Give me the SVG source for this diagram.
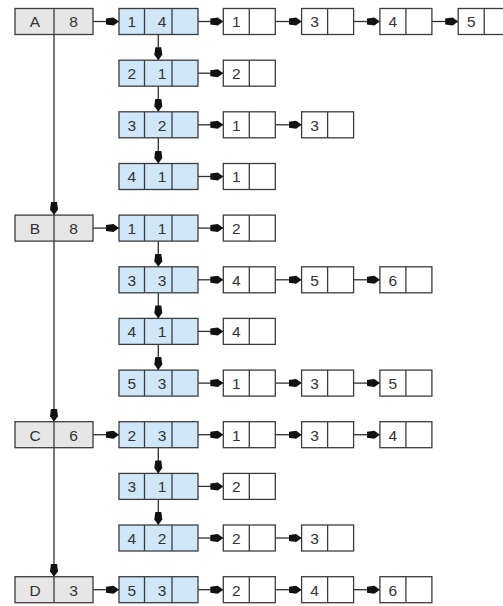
<svg xmlns="http://www.w3.org/2000/svg" width="503" height="606" viewBox="0 0 503 606">
  <defs>
    <style>
      .g, .b, .w { stroke: #3c3c3c; stroke-width: 1.3; }
      .g { fill: #e6e6e6; }
      .b { fill: #cfe7f8; }
      .w { fill: #ffffff; }
      .d { stroke: #3c3c3c; stroke-width: 1.3; }
      text { font-family: "Liberation Sans", Arial, sans-serif; font-size: 15.5px; fill: #333333; text-anchor: middle; }
      .c line { stroke: #303030; stroke-width: 1.3; marker-end: url(#ah); }
    </style>
    <marker id="ah" markerUnits="userSpaceOnUse" markerWidth="14" markerHeight="10" viewBox="0 -5 14 10" refX="13" refY="0" orient="auto">
      <path d="M0,-3 L7.5,-4 L13,0 L7.5,4 L0,3 Z" fill="#111111"/>
    </marker>
  </defs>
  <rect x="0" y="0" width="503" height="606" fill="#ffffff"/>

  <!-- connectors -->
  <g class="c" id="connectors">
    <!-- head column -->
    <line x1="54" y1="34.5" x2="54" y2="215.1"/>
    <line x1="54" y1="241.1" x2="54" y2="421.7"/>
    <line x1="54" y1="447.7" x2="54" y2="576.7"/>
    <!-- head to first entry -->
    <line x1="93" y1="21.5" x2="119" y2="21.5"/>
    <line x1="93" y1="228.1" x2="119" y2="228.1"/>
    <line x1="93" y1="434.7" x2="119" y2="434.7"/>
    <line x1="93" y1="589.7" x2="119" y2="589.7"/>
    <!-- entry chains -->
    <line x1="158.3" y1="34.5" x2="158.3" y2="60.2"/>
    <line x1="158.3" y1="86.2" x2="158.3" y2="111.8"/>
    <line x1="158.3" y1="137.8" x2="158.3" y2="163.5"/>
    <line x1="158.3" y1="241.1" x2="158.3" y2="266.8"/>
    <line x1="158.3" y1="292.8" x2="158.3" y2="318.4"/>
    <line x1="158.3" y1="344.4" x2="158.3" y2="370.1"/>
    <line x1="158.3" y1="447.7" x2="158.3" y2="473.4"/>
    <line x1="158.3" y1="499.4" x2="158.3" y2="525"/>
    <!-- row 0 -->
    <line x1="198" y1="21.5" x2="223.3" y2="21.5"/>
    <line x1="275.3" y1="21.5" x2="301.6" y2="21.5"/>
    <line x1="353.6" y1="21.5" x2="379.9" y2="21.5"/>
    <line x1="431.9" y1="21.5" x2="458.2" y2="21.5"/>
    <!-- row 1 -->
    <line x1="198" y1="73.2" x2="223.3" y2="73.2"/>
    <!-- row 2 -->
    <line x1="198" y1="124.8" x2="223.3" y2="124.8"/>
    <line x1="275.3" y1="124.8" x2="301.6" y2="124.8"/>
    <!-- row 3 -->
    <line x1="198" y1="176.5" x2="223.3" y2="176.5"/>
    <!-- row 4 -->
    <line x1="198" y1="228.1" x2="223.3" y2="228.1"/>
    <!-- row 5 -->
    <line x1="198" y1="279.8" x2="223.3" y2="279.8"/>
    <line x1="275.3" y1="279.8" x2="301.6" y2="279.8"/>
    <line x1="353.6" y1="279.8" x2="379.9" y2="279.8"/>
    <!-- row 6 -->
    <line x1="198" y1="331.4" x2="223.3" y2="331.4"/>
    <!-- row 7 -->
    <line x1="198" y1="383.1" x2="223.3" y2="383.1"/>
    <line x1="275.3" y1="383.1" x2="301.6" y2="383.1"/>
    <line x1="353.6" y1="383.1" x2="379.9" y2="383.1"/>
    <!-- row 8 -->
    <line x1="198" y1="434.7" x2="223.3" y2="434.7"/>
    <line x1="275.3" y1="434.7" x2="301.6" y2="434.7"/>
    <line x1="353.6" y1="434.7" x2="379.9" y2="434.7"/>
    <!-- row 9 -->
    <line x1="198" y1="486.4" x2="223.3" y2="486.4"/>
    <!-- row 10 -->
    <line x1="198" y1="538" x2="223.3" y2="538"/>
    <line x1="275.3" y1="538" x2="301.6" y2="538"/>
    <!-- row 11 -->
    <line x1="198" y1="589.7" x2="223.3" y2="589.7"/>
    <line x1="275.3" y1="589.7" x2="301.6" y2="589.7"/>
    <line x1="353.6" y1="589.7" x2="379.9" y2="589.7"/>
  </g>

  <!-- head nodes -->
  <g id="head-A"><rect class="g" x="15" y="8.5" width="78" height="26"/><line class="d" x1="54" y1="8.5" x2="54" y2="34.5"/><text x="35" y="27.3">A</text><text x="73.5" y="27.3">8</text></g>
  <g id="head-B"><rect class="g" x="15" y="215.1" width="78" height="26"/><line class="d" x1="54" y1="215.1" x2="54" y2="241.1"/><text x="35" y="233.9">B</text><text x="73.5" y="233.9">8</text></g>
  <g id="head-C"><rect class="g" x="15" y="421.7" width="78" height="26"/><line class="d" x1="54" y1="421.7" x2="54" y2="447.7"/><text x="35" y="440.5">C</text><text x="73.5" y="440.5">6</text></g>
  <g id="head-D"><rect class="g" x="15" y="576.7" width="78" height="26"/><line class="d" x1="54" y1="576.7" x2="54" y2="602.7"/><text x="35" y="595.5">D</text><text x="73.5" y="595.5">3</text></g>

  <!-- entry nodes -->
  <g id="e0"><rect class="b" x="119" y="8.5" width="79" height="26"/><line class="d" x1="144.5" y1="8.5" x2="144.5" y2="34.5"/><line class="d" x1="172" y1="8.5" x2="172" y2="34.5"/><text x="131.7" y="27.3">1</text><text x="162" y="27.3">4</text></g>
  <g id="e1"><rect class="b" x="119" y="60.2" width="79" height="26"/><line class="d" x1="144.5" y1="60.2" x2="144.5" y2="86.2"/><line class="d" x1="172" y1="60.2" x2="172" y2="86.2"/><text x="131.7" y="79">2</text><text x="162" y="79">1</text></g>
  <g id="e2"><rect class="b" x="119" y="111.8" width="79" height="26"/><line class="d" x1="144.5" y1="111.8" x2="144.5" y2="137.8"/><line class="d" x1="172" y1="111.8" x2="172" y2="137.8"/><text x="131.7" y="130.6">3</text><text x="162" y="130.6">2</text></g>
  <g id="e3"><rect class="b" x="119" y="163.5" width="79" height="26"/><line class="d" x1="144.5" y1="163.5" x2="144.5" y2="189.5"/><line class="d" x1="172" y1="163.5" x2="172" y2="189.5"/><text x="131.7" y="182.3">4</text><text x="162" y="182.3">1</text></g>
  <g id="e4"><rect class="b" x="119" y="215.1" width="79" height="26"/><line class="d" x1="144.5" y1="215.1" x2="144.5" y2="241.1"/><line class="d" x1="172" y1="215.1" x2="172" y2="241.1"/><text x="131.7" y="233.9">1</text><text x="162" y="233.9">1</text></g>
  <g id="e5"><rect class="b" x="119" y="266.8" width="79" height="26"/><line class="d" x1="144.5" y1="266.8" x2="144.5" y2="292.8"/><line class="d" x1="172" y1="266.8" x2="172" y2="292.8"/><text x="131.7" y="285.6">3</text><text x="162" y="285.6">3</text></g>
  <g id="e6"><rect class="b" x="119" y="318.4" width="79" height="26"/><line class="d" x1="144.5" y1="318.4" x2="144.5" y2="344.4"/><line class="d" x1="172" y1="318.4" x2="172" y2="344.4"/><text x="131.7" y="337.2">4</text><text x="162" y="337.2">1</text></g>
  <g id="e7"><rect class="b" x="119" y="370.1" width="79" height="26"/><line class="d" x1="144.5" y1="370.1" x2="144.5" y2="396.1"/><line class="d" x1="172" y1="370.1" x2="172" y2="396.1"/><text x="131.7" y="388.9">5</text><text x="162" y="388.9">3</text></g>
  <g id="e8"><rect class="b" x="119" y="421.7" width="79" height="26"/><line class="d" x1="144.5" y1="421.7" x2="144.5" y2="447.7"/><line class="d" x1="172" y1="421.7" x2="172" y2="447.7"/><text x="131.7" y="440.5">2</text><text x="162" y="440.5">3</text></g>
  <g id="e9"><rect class="b" x="119" y="473.4" width="79" height="26"/><line class="d" x1="144.5" y1="473.4" x2="144.5" y2="499.4"/><line class="d" x1="172" y1="473.4" x2="172" y2="499.4"/><text x="131.7" y="492.2">3</text><text x="162" y="492.2">1</text></g>
  <g id="e10"><rect class="b" x="119" y="525" width="79" height="26"/><line class="d" x1="144.5" y1="525" x2="144.5" y2="551"/><line class="d" x1="172" y1="525" x2="172" y2="551"/><text x="131.7" y="543.8">4</text><text x="162" y="543.8">2</text></g>
  <g id="e11"><rect class="b" x="119" y="576.7" width="79" height="26"/><line class="d" x1="144.5" y1="576.7" x2="144.5" y2="602.7"/><line class="d" x1="172" y1="576.7" x2="172" y2="602.7"/><text x="131.7" y="595.5">5</text><text x="162" y="595.5">3</text></g>

  <!-- item nodes -->
  <g id="i0-1"><rect class="w" x="223.3" y="8.5" width="52" height="26"/><line class="d" x1="249.3" y1="8.5" x2="249.3" y2="34.5"/><text x="236.3" y="27.3">1</text></g>
  <g id="i0-2"><rect class="w" x="301.6" y="8.5" width="52" height="26"/><line class="d" x1="327.6" y1="8.5" x2="327.6" y2="34.5"/><text x="314.6" y="27.3">3</text></g>
  <g id="i0-3"><rect class="w" x="379.9" y="8.5" width="52" height="26"/><line class="d" x1="405.9" y1="8.5" x2="405.9" y2="34.5"/><text x="392.9" y="27.3">4</text></g>
  <g id="i0-4"><rect class="w" x="458.2" y="8.5" width="52" height="26"/><line class="d" x1="484.2" y1="8.5" x2="484.2" y2="34.5"/><text x="471.2" y="27.3">5</text></g>

  <g id="i1-1"><rect class="w" x="223.3" y="60.2" width="52" height="26"/><line class="d" x1="249.3" y1="60.2" x2="249.3" y2="86.2"/><text x="236.3" y="79">2</text></g>

  <g id="i2-1"><rect class="w" x="223.3" y="111.8" width="52" height="26"/><line class="d" x1="249.3" y1="111.8" x2="249.3" y2="137.8"/><text x="236.3" y="130.6">1</text></g>
  <g id="i2-2"><rect class="w" x="301.6" y="111.8" width="52" height="26"/><line class="d" x1="327.6" y1="111.8" x2="327.6" y2="137.8"/><text x="314.6" y="130.6">3</text></g>

  <g id="i3-1"><rect class="w" x="223.3" y="163.5" width="52" height="26"/><line class="d" x1="249.3" y1="163.5" x2="249.3" y2="189.5"/><text x="236.3" y="182.3">1</text></g>

  <g id="i4-1"><rect class="w" x="223.3" y="215.1" width="52" height="26"/><line class="d" x1="249.3" y1="215.1" x2="249.3" y2="241.1"/><text x="236.3" y="233.9">2</text></g>

  <g id="i5-1"><rect class="w" x="223.3" y="266.8" width="52" height="26"/><line class="d" x1="249.3" y1="266.8" x2="249.3" y2="292.8"/><text x="236.3" y="285.6">4</text></g>
  <g id="i5-2"><rect class="w" x="301.6" y="266.8" width="52" height="26"/><line class="d" x1="327.6" y1="266.8" x2="327.6" y2="292.8"/><text x="314.6" y="285.6">5</text></g>
  <g id="i5-3"><rect class="w" x="379.9" y="266.8" width="52" height="26"/><line class="d" x1="405.9" y1="266.8" x2="405.9" y2="292.8"/><text x="392.9" y="285.6">6</text></g>

  <g id="i6-1"><rect class="w" x="223.3" y="318.4" width="52" height="26"/><line class="d" x1="249.3" y1="318.4" x2="249.3" y2="344.4"/><text x="236.3" y="337.2">4</text></g>

  <g id="i7-1"><rect class="w" x="223.3" y="370.1" width="52" height="26"/><line class="d" x1="249.3" y1="370.1" x2="249.3" y2="396.1"/><text x="236.3" y="388.9">1</text></g>
  <g id="i7-2"><rect class="w" x="301.6" y="370.1" width="52" height="26"/><line class="d" x1="327.6" y1="370.1" x2="327.6" y2="396.1"/><text x="314.6" y="388.9">3</text></g>
  <g id="i7-3"><rect class="w" x="379.9" y="370.1" width="52" height="26"/><line class="d" x1="405.9" y1="370.1" x2="405.9" y2="396.1"/><text x="392.9" y="388.9">5</text></g>

  <g id="i8-1"><rect class="w" x="223.3" y="421.7" width="52" height="26"/><line class="d" x1="249.3" y1="421.7" x2="249.3" y2="447.7"/><text x="236.3" y="440.5">1</text></g>
  <g id="i8-2"><rect class="w" x="301.6" y="421.7" width="52" height="26"/><line class="d" x1="327.6" y1="421.7" x2="327.6" y2="447.7"/><text x="314.6" y="440.5">3</text></g>
  <g id="i8-3"><rect class="w" x="379.9" y="421.7" width="52" height="26"/><line class="d" x1="405.9" y1="421.7" x2="405.9" y2="447.7"/><text x="392.9" y="440.5">4</text></g>

  <g id="i9-1"><rect class="w" x="223.3" y="473.4" width="52" height="26"/><line class="d" x1="249.3" y1="473.4" x2="249.3" y2="499.4"/><text x="236.3" y="492.2">2</text></g>

  <g id="i10-1"><rect class="w" x="223.3" y="525" width="52" height="26"/><line class="d" x1="249.3" y1="525" x2="249.3" y2="551"/><text x="236.3" y="543.8">2</text></g>
  <g id="i10-2"><rect class="w" x="301.6" y="525" width="52" height="26"/><line class="d" x1="327.6" y1="525" x2="327.6" y2="551"/><text x="314.6" y="543.8">3</text></g>

  <g id="i11-1"><rect class="w" x="223.3" y="576.7" width="52" height="26"/><line class="d" x1="249.3" y1="576.7" x2="249.3" y2="602.7"/><text x="236.3" y="595.5">2</text></g>
  <g id="i11-2"><rect class="w" x="301.6" y="576.7" width="52" height="26"/><line class="d" x1="327.6" y1="576.7" x2="327.6" y2="602.7"/><text x="314.6" y="595.5">4</text></g>
  <g id="i11-3"><rect class="w" x="379.9" y="576.7" width="52" height="26"/><line class="d" x1="405.9" y1="576.7" x2="405.9" y2="602.7"/><text x="392.9" y="595.5">6</text></g>
</svg>
